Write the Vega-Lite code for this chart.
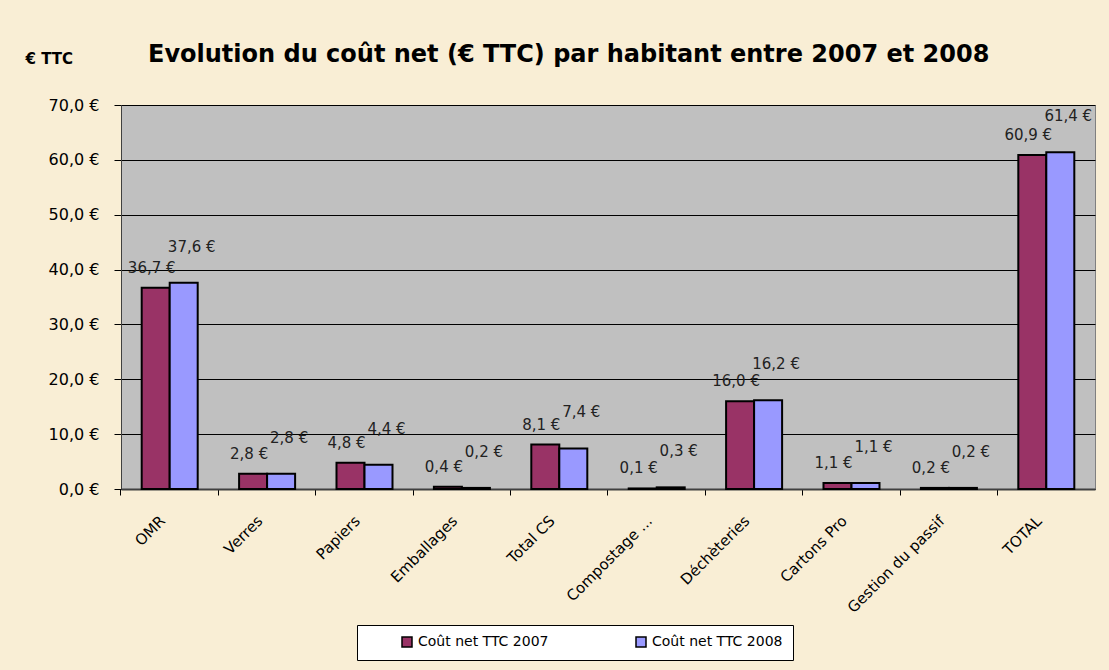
{
  "$schema": "https://vega.github.io/schema/vega-lite/v6.json",
  "width": 974,
  "height": 384,
  "autosize": {"type": "none"},
  "padding": {"left": 121, "top": 105, "right": 14, "bottom": 181},
  "background": "#f9eed5",
  "config": {
    "locale": {"number": {"decimal": ",", "thousands": " ", "grouping": [3], "currency": ["", " €"]}},
    "font": "DejaVu Sans",
    "view": {"fill": "#c0c0c0", "stroke": "#808080", "strokeWidth": 1}
  },
  "title": {
    "text": "Evolution du coût net (€ TTC) par habitant entre 2007 et 2008",
    "anchor": "start",
    "dx": 123,
    "offset": 0,
    "dy": 16,
    "fontSize": 24,
    "fontWeight": "bold",
    "color": "black",
    "font": "DejaVu Sans"
  },
  "data": {
    "values": [
      {"cat": "OMR", "serie": "Coût net TTC 2007", "val": 36.7},
      {"cat": "OMR", "serie": "Coût net TTC 2008", "val": 37.6},
      {"cat": "Verres", "serie": "Coût net TTC 2007", "val": 2.8},
      {"cat": "Verres", "serie": "Coût net TTC 2008", "val": 2.8},
      {"cat": "Papiers", "serie": "Coût net TTC 2007", "val": 4.8},
      {"cat": "Papiers", "serie": "Coût net TTC 2008", "val": 4.4},
      {"cat": "Emballages", "serie": "Coût net TTC 2007", "val": 0.4},
      {"cat": "Emballages", "serie": "Coût net TTC 2008", "val": 0.2},
      {"cat": "Total CS", "serie": "Coût net TTC 2007", "val": 8.1},
      {"cat": "Total CS", "serie": "Coût net TTC 2008", "val": 7.4},
      {"cat": "Compostage ...", "serie": "Coût net TTC 2007", "val": 0.1},
      {"cat": "Compostage ...", "serie": "Coût net TTC 2008", "val": 0.3},
      {"cat": "Déchèteries", "serie": "Coût net TTC 2007", "val": 16.0},
      {"cat": "Déchèteries", "serie": "Coût net TTC 2008", "val": 16.2},
      {"cat": "Cartons Pro", "serie": "Coût net TTC 2007", "val": 1.1},
      {"cat": "Cartons Pro", "serie": "Coût net TTC 2008", "val": 1.1},
      {"cat": "Gestion du passif", "serie": "Coût net TTC 2007", "val": 0.2},
      {"cat": "Gestion du passif", "serie": "Coût net TTC 2008", "val": 0.2},
      {"cat": "TOTAL", "serie": "Coût net TTC 2007", "val": 60.9},
      {"cat": "TOTAL", "serie": "Coût net TTC 2008", "val": 61.4}
    ]
  },
  "encoding": {
    "x": {
      "field": "cat",
      "type": "nominal",
      "sort": null,
      "title": null,
      "scale": {"paddingInner": 0.425, "paddingOuter": 0.2125},
      "axis": {
        "bandPosition": -0.37,
        "labelOffset": -12,
        "labelAngle": -45,
        "labelAlign": "right",
        "labelBaseline": "top",
        "labelFontSize": 15,
        "labelColor": "black",
        "labelPadding": 18,
        "labelLimit": 300,
        "tickSize": 6,
        "tickColor": "black",
        "domainColor": "#404040",
        "domainWidth": 2,
        "grid": false
      }
    },
    "xOffset": {"field": "serie", "type": "nominal"},
    "y": {
      "field": "val",
      "type": "quantitative",
      "scale": {"domain": [0, 70], "nice": false},
      "axis": {
        "values": [0, 10, 20, 30, 40, 50, 60, 70],
        "format": "$.1f",
        "title": "€ TTC",
        "titleAngle": 0,
        "titleX": -96,
        "titleY": -47,
        "titleAlign": "left",
        "titleBaseline": "middle",
        "titleFontSize": 15,
        "titleFontWeight": "bold",
        "titleColor": "black",
        "labelFontSize": 16,
        "labelColor": "black",
        "labelPadding": 15,
        "tickSize": 7,
        "tickColor": "black",
        "domainColor": "#404040",
        "grid": true,
        "gridColor": "black",
        "gridWidth": 1
      }
    }
  },
  "layer": [
    {
      "mark": {"type": "bar", "stroke": "black", "strokeWidth": 2},
      "encoding": {
        "color": {
          "field": "serie",
          "type": "nominal",
          "scale": {"domain": ["Coût net TTC 2007", "Coût net TTC 2008"], "range": ["#993366", "#9999ff"]},
          "legend": {
            "orient": "none",
            "legendX": 236,
            "legendY": 520,
            "direction": "horizontal",
            "title": null,
            "fillColor": "white",
            "strokeColor": "black",
            "padding": 10,
            "labelFontSize": 14,
            "labelColor": "black",
            "labelLimit": 300,
            "symbolType": "square",
            "symbolSize": 100,
            "symbolStrokeColor": "black",
            "symbolStrokeWidth": 1.5,
            "symbolOffset": 33,
            "columnPadding": 52
          }
        }
      }
    },
    {
      "transform": [{"filter": "datum.serie == 'Coût net TTC 2007'"}],
      "mark": {"type": "text", "dy": -20, "dx": -4, "fontSize": 15, "color": "#222222"},
      "encoding": {"text": {"field": "val", "type": "quantitative", "format": "$.1f"}}
    },
    {
      "transform": [{"filter": "datum.serie == 'Coût net TTC 2008'"}],
      "mark": {"type": "text", "dy": -36, "dx": 8, "fontSize": 15, "color": "#222222"},
      "encoding": {"text": {"field": "val", "type": "quantitative", "format": "$.1f"}}
    }
  ]
}
